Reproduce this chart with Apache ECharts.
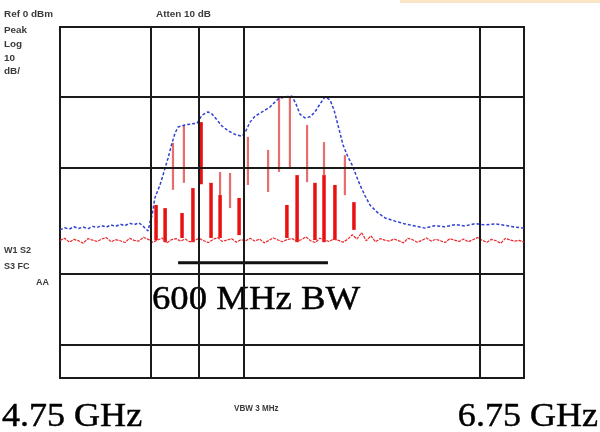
<!DOCTYPE html>
<html><head><meta charset="utf-8">
<script src="https://cdn.jsdelivr.net/npm/echarts@6/dist/echarts.min.js"></script>
<style>html,body{margin:0;padding:0;background:#fff}#c{width:600px;height:432px}</style>
</head><body><div id="c"></div>
<script>
// ---- data (frequency in GHz, level in dBm) ----
const freqMin = 4.75, freqMax = 6.75;
const levelMin = -100, levelMax = 0;

// blue max-hold trace
const maxHold = [
 [4.750,-57.8],[4.770,-57.2],[4.790,-57.6],[4.810,-56.9],[4.830,-57.4],[4.850,-57.0],[4.870,-57.5],[4.890,-56.8],
 [4.910,-57.1],[4.930,-56.6],[4.950,-57.0],[4.970,-56.4],[4.990,-56.8],[5.010,-56.2],[5.030,-56.6],[5.050,-55.9],
 [5.070,-56.3],[5.090,-55.8],[5.105,-56.5],[5.120,-57.6],[5.130,-58.1],[5.138,-55.6],[5.147,-53.6],[5.159,-48.7],
 [5.181,-45.0],[5.194,-42.2],[5.216,-37.3],[5.233,-33.0],[5.246,-30.2],[5.259,-28.5],[5.289,-27.9],[5.319,-27.6],
 [5.341,-27.4],[5.362,-25.1],[5.388,-24.2],[5.405,-24.8],[5.427,-26.5],[5.448,-28.2],[5.470,-29.3],[5.491,-30.2],
 [5.513,-30.8],[5.534,-31.1],[5.547,-30.2],[5.569,-27.1],[5.591,-25.4],[5.621,-24.2],[5.655,-22.8],[5.690,-20.5],
 [5.720,-19.9],[5.750,-19.7],[5.767,-21.9],[5.784,-24.8],[5.806,-25.9],[5.828,-25.6],[5.849,-24.2],[5.871,-21.9],
 [5.892,-19.9],[5.914,-20.8],[5.931,-23.6],[5.948,-27.9],[5.970,-33.6],[5.991,-37.0],[6.009,-39.3],[6.026,-42.2],
 [6.043,-45.0],[6.065,-48.1],[6.086,-50.7],[6.116,-52.7],[6.151,-54.4],[6.194,-55.3],[6.237,-56.1],[6.280,-56.7],
 [6.323,-57.3],[6.366,-56.6],[6.409,-56.9],[6.453,-56.3],[6.496,-56.7],[6.539,-56.0],[6.582,-56.4],[6.625,-56.1],
 [6.668,-56.5],[6.711,-57.0],[6.750,-57.3]
];

// red noise floor, sweep points every 0.02 GHz from 4.75 GHz
const noiseStart = 4.75, noiseStep = 0.02;
const noiseFloor = [
 -60.8,-60.2,-61.3,-60.5,-60.9,-61.6,-60.3,-60.7,-61.1,-60.4,
 -60.0,-61.2,-60.6,-60.9,-61.4,-60.2,-60.8,-61.0,-59.9,-60.5,
 -61.3,-60.7,-60.1,-61.5,-60.6,-60.3,-61.0,-60.4,-61.2,-60.8,
 -60.2,-60.9,-61.4,-60.5,-60.0,-61.1,-60.7,-60.3,-61.3,-60.6,
 -60.9,-60.2,-61.0,-60.4,-61.5,-60.8,-60.1,-60.7,-61.2,-60.5,
 -60.3,-61.0,-60.6,-59.8,-60.9,-61.4,-60.2,-60.7,-61.1,-60.4,
 -60.8,-61.3,-60.5,-59.2,-60.4,-58.6,-60.9,-59.5,-61.2,-60.3,
 -60.7,-61.0,-60.4,-60.9,-61.5,-60.2,-60.6,-61.3,-60.8,-60.1,
 -61.0,-60.5,-60.9,-61.4,-60.3,-60.7,-61.1,-60.4,-61.2,-60.6,
 -60.0,-60.8,-61.3,-60.5,-60.9,-61.6,-60.2,-60.7,-61.0,-60.8,-61.3
];

// red tone spikes: [freq, top level, bottom level]
const strongSpikes = [
 [5.164,-50.7,-60.7],[5.203,-51.6,-61.3],[5.276,-53.0,-60.1],[5.323,-45.9,-61.3],[5.358,-27.1,-44.8],
 [5.401,-44.4,-60.1],[5.440,-47.9,-60.1],[5.522,-48.7,-59.3],[5.728,-50.7,-60.1],[5.772,-42.2,-61.3],
 [5.849,-44.4,-60.7],[5.888,-42.2,-61.3],[5.935,-45.0,-60.7],[6.017,-49.9,-57.8]
];
const faintSpikes = [
 [5.237,-33.0,-46.4],[5.284,-27.9,-44.4],[5.440,-41.3,-52.7],[5.483,-41.6,-51.6],[5.560,-31.3,-45.0],
 [5.647,-35.0,-47.0],[5.694,-20.2,-41.3],[5.741,-20.2,-39.9],[5.815,-27.9,-44.2],[5.888,-32.8,-42.2],
 [5.978,-36.5,-47.9]
];

// graticule positions
const gridFreqs = [5.142, 5.349, 5.543, 6.556];
const gridLevels = [-20, -40, -70.4, -90.6];

// 600 MHz bandwidth marker bar
const bwMarker = [[5.259,-67.2],[5.905,-67.2]];

const startLabel = '4.75 GHz', stopLabel = '6.75 GHz', bwLabel = '600 MHz BW';
const infoLabels = ['Ref 0 dBm','Peak','Log','10','dB/'];
const attenLabel = 'Atten 10 dB';
const markerLabels = ['W1 S2','S3 FC','AA'];
const vbwLabel = 'VBW 3 MHz';

// ---- chart ----
const noiseData = noiseFloor.map((v,i)=>[noiseStart + i*noiseStep, v]);

function spikeRender(w){
  return function(params, api){
    const f = api.value(0);
    const p1 = api.coord([f, api.value(1)]);
    const p2 = api.coord([f, api.value(2)]);
    return {type:'rect', shape:{x:p1[0]-w/2, y:p1[1], width:w, height:p2[1]-p1[1]},
      style:{fill: api.visual('color')}};
  };
}

const chart = echarts.init(document.getElementById('c'), null, {renderer:'canvas'});
const smallFont = 'bold 9px "Liberation Sans", Arial, sans-serif';
const bigFont = '34px "Liberation Serif", "Times New Roman", serif';
const smallFill = '#3a3a3a';

const graphics = [];
const infoY = [15, 31, 45, 59, 72];
infoLabels.forEach((t,i)=>graphics.push({type:'text', x:4, y:infoY[i], scaleX:1.1,
  style:{text:t, font:smallFont, fill:smallFill, textVerticalAlign:'middle'}}));
graphics.push({type:'text', x:156, y:15, scaleX:1.1, style:{text:attenLabel, font:smallFont, fill:smallFill, textVerticalAlign:'middle'}});
const mkY = [251, 267, 283], mkX = [4, 4, 36];
markerLabels.forEach((t,i)=>graphics.push({type:'text', x:mkX[i], y:mkY[i], scaleX:1.0,
  style:{text:t, font:smallFont, fill:smallFill, textVerticalAlign:'middle'}}));
graphics.push({type:'text', x:234, y:409, scaleX:0.9, style:{text:vbwLabel, font:smallFont, fill:smallFill, textVerticalAlign:'middle'}});
const bigStyle = {font:bigFont, fill:'#000', stroke:'#000', lineWidth:0.5, textVerticalAlign:'bottom'};
graphics.push({type:'text', x:2, y:434, scaleX:1.06, style:Object.assign({text:startLabel, textAlign:'left'}, bigStyle)});
graphics.push({type:'text', x:598, y:434, scaleX:1.06, style:Object.assign({text:stopLabel, textAlign:'right'}, bigStyle)});
graphics.push({type:'text', x:152, y:317, scaleX:1.08, style:Object.assign({text:bwLabel, textAlign:'left'}, bigStyle)});
graphics.push({type:'rect', shape:{x:400, y:0, width:200, height:3}, style:{fill:'#f7d6a0', opacity:0.6}});

chart.setOption({
  animation:false,
  backgroundColor:'#fff',
  grid:{left:60, top:27, width:464, height:351, show:true, borderColor:'#1a1a1a', borderWidth:2, backgroundColor:'rgba(0,0,0,0)'},
  xAxis:{type:'value', min:freqMin, max:freqMax, axisLine:{show:false}, axisTick:{show:false}, axisLabel:{show:false}, splitLine:{show:false}},
  yAxis:{type:'value', min:levelMin, max:levelMax, axisLine:{show:false}, axisTick:{show:false}, axisLabel:{show:false}, splitLine:{show:false}},
  graphic: graphics,
  series:[
    {type:'line', name:'noise', data:noiseData, showSymbol:false, silent:true,
     lineStyle:{color:'#e8282c', width:1.2, type:[3,1]},
     markLine:{silent:true, symbol:'none', label:{show:false},
       lineStyle:{color:'#1a1a1a', width:2, type:'solid'},
       data: gridFreqs.map(f=>({xAxis:f})).concat(gridLevels.map(l=>({yAxis:l})))}},
    {type:'custom', name:'faint', data:faintSpikes, renderItem:spikeRender(2.2), encode:{x:0, y:[1,2]},
     itemStyle:{color:'rgba(225,60,60,0.75)'}, silent:true},
    {type:'custom', name:'strong', data:strongSpikes, renderItem:spikeRender(3.5), encode:{x:0, y:[1,2]},
     itemStyle:{color:'#e81010'}, silent:true},
    {type:'line', name:'maxhold', data:maxHold, showSymbol:false, silent:true,
     lineStyle:{color:'#3040d0', width:1.5, type:[3,2]}},
    {type:'line', name:'bw', data:bwMarker, showSymbol:false, silent:true,
     lineStyle:{color:'#111', width:3}}
  ]
});
</script>
</body></html>
